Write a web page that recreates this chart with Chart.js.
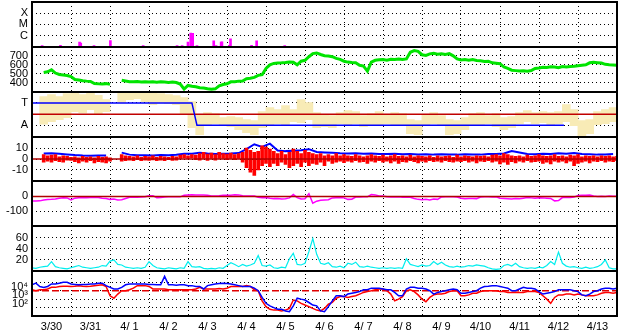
<!DOCTYPE html>
<html lang="en">
<head>
<meta charset="UTF-8">
<title>Space weather summary 3/30 - 4/13</title>
<style>
    body { margin: 0; background: #fff; }
    #wrap { width: 628px; height: 334px; }
</style>
<script src="https://cdn.jsdelivr.net/npm/chart.js"></script>
</head>
<body>
<div id="wrap"><canvas id="chart" width="628" height="334"></canvas></div>
<script>
// x axis: days since 3/30 00:00
const dayLabels = ['3/30', '3/31', '4/ 1', '4/ 2', '4/ 3', '4/ 4', '4/ 5', '4/ 6', '4/ 7', '4/ 8', '4/ 9', '4/10', '4/11', '4/12', '4/13'];

// x-ray flares (peak flux, W/m2)
const flareDays = [0.26, 0.73, 1.22, 1.25, 1.59, 2.01, 2.85, 3.72, 3.85, 4.0, 4.07, 4.12, 4.23, 4.66, 4.72, 4.85, 4.87, 5.06, 5.09, 5.63, 5.76, 6.48];
const flareFlux = [1.3e-7, 1.4e-7, 2.6e-7, 2.2e-7, 1.3e-7, 3.6e-7, 1.3e-7, 1.3e-7, 1.3e-7, 2.6e-7, 1.7e-6, 1.6e-6, 1.3e-7, 3.4e-7, 1.3e-7, 2.6e-7, 2.8e-7, 1.4e-7, 5.1e-7, 1.4e-7, 3.4e-7, 1.3e-7];

// solar wind speed km/s, every 0.1 day from day 0.3
const speed = [514, 522, 545, 508, 492, 486, 480,
    468, 436, 430, 422, 418, 415, 392, 388, 385, 390,
    382, null, null, 428, 420, 412, 410, 413, 409, 411,
    408, 412, 406, 410, 407, 404, 409, 402, 385, 330,
    370, 360, 355, 345, 342, 334, 328, 332, 365, 380,
    388, 410, 412, 418, 420, 445, 450, 460, 482, 490,
    560, 600, 615, 620, 622, 625, 632, 628, 600, 640,
    650, 690, 725, 732, 715, 702, 698, 690, 672, 660,
    640, 630, 625, 622, 595, 585, 530, 630, 650, 655,
    658, 650, 662, 660, 664, 658, 665, 740, 758, 750,
    712, 705, 722, 728, 718, 722, 714, 725, 700, 665,
    655, 660, 650, 658, 648, 645, 638, 640, 622, 618,
    612, 575, 560, 540, 535, 530, 534, 528, 536, 560,
    565, 572, 570, 578, 575, 568, 580, 576, 582, 585,
    590, 595, 600, 622, 628, 624, 620, 605, 600, 598,
    595];

// IMF longitude spread (deg), every 0.2 day from day 0.3
const phiRange = [[100, 320], [120, 336], [136, 320], [152, 345], [200, 353], [190, 336], [216, 353], [176, 330], [200, 296], null,
    [272, 353], [296, 353], [304, 355], [280, 353], [256, 353], [272, 345], [264, 336], [256, 328], [176, 312], [72, 280],
    [15, 176], [96, 192], [104, 184], [88, 152], [80, 160], [55, 152], [31, 136], [15, 128], [72, 200], [96, 232],
    [104, 216], [96, 248], [120, 216], [112, 296], [136, 272], [72, 192], [80, 176], [72, 168], [104, 192], [96, 208],
    [104, 200], [80, 168], [88, 184], [96, 200], [104, 176], [88, 192], [96, 184], [24, 136], [15, 128], [96, 176],
    [104, 192], [88, 168], [15, 136], [24, 128], [55, 152], [96, 184], [88, 192], [104, 168], [80, 184], [55, 152],
    [72, 160], [104, 192], [120, 208], [104, 192], [112, 200], [96, 192], [104, 200], [120, 256], [88, 216], [7, 128],
    [24, 136], [96, 200], [104, 216], [120, 232]];

// sector (T = 270, A = 90)
const sectorDays = [0, 4.10, 4.23, 13.64];
const sectorPhi = [270, 270, 90, 90];

// IMF Bt (nT), every 0.2 day from day 0.3
const bt = [5.0, 5.2, 4.8, 4.2, 3.6, 3.2, 3.0, 3.3, 3.1, null,
    5.8, 4.0, 3.4, 3.5, 3.2, 3.6, 3.4, 3.8, 4.7, 4.9,
    5.6, 5.0, 4.6, 4.8, 5.0, 5.4, 9.0, 13.5, 11.0, 14.0,
    7.8, 7.2, 7.6, 8.0, 9.0, 6.4, 6.0, 5.6, 5.2, 5.0,
    5.2, 4.8, 5.0, 4.6, 4.5, 4.8, 4.4, 4.6, 4.2, 4.4,
    4.0, 4.3, 4.1, 4.0, 4.4, 4.2, 4.0, 4.5, 4.6, 5.0,
    7.2, 6.0, 4.6, 4.4, 4.8, 4.5, 5.2, 4.8, 5.5, 4.6,
    4.4, 4.0, 4.2, 4.5];

// IMF Bz range (nT), every 0.1 day from day 0.3
const bz = [[-3, 4], [-2, 3], [-3, 3.5], [-1.5, 4], [-2.5, 2], [-3, 3], [-1, 2.5],
    [-1.2, 1.5], [-2.5, 2], [-3.5, 1], [-2, 2.5], [-3, 1.5], [-1.5, 2], [-3.5, 1], [-2.5, 2.5], [-3, 1.5], [-3.5, 2],
    [-2, 1], null, null, [-2, 4], [-1.5, 3], [-1, 2.5], [-1.5, 2], [-0.5, 3], [-1.5, 1.5], [-1, 2.5],
    [-1.2, 2], [-0.8, 3], [-1.5, 1.5], [-1, 2.5], [-1.5, 2], [-0.5, 1.5], [-1.2, 2.5], [-1, 2], [0.5, 3.5], [1, 4],
    [0.5, 3], [1, 4], [-0.5, 3.5], [-1, 5], [0, 6], [-1.2, 4.5], [0, 5.5], [-1, 4], [0.5, 6], [0, 5],
    [-0.5, 4.5], [0, 5.5], [-0.5, 4], [0, 5], [-3, 6], [-8, 10], [-12, 8], [-15, 6], [-10, 7], [-6, 12],
    [-4, 11], [-7, 9], [-4, 7], [-6, 5], [-3, 7], [-5, 4], [-8, 6], [-6, 9], [-4, 7], [-7, 5],
    [-3, 8], [-6, 6], [-4, 5], [-5, 4], [-3, 5], [-6, 3], [-2, 4], [-4, 3], [-3, 5], [-2, 3],
    [-3.3, 4], [-2, 3], [-3, 2.5], [-1.5, 4], [-3, 3], [-2.5, 2], [-4, 3], [-2, 4], [-3, 3], [-1.5, 2.5],
    [-3, 3.5], [-2, 2], [-3.5, 3], [-2, 4], [-4, 2.5], [-2.5, 3], [-3, 2], [-1.5, 3.5], [-2.5, 2], [-3.5, 3],
    [-2, 2.5], [-3, 2], [-1.5, 3], [-2.5, 1.5], [-2, 3], [-3, 2], [-1.5, 2.5], [-2.5, 3], [-3, 1.5], [-2, 3.5],
    [-2.5, 2], [-1.5, 3], [-3, 2.5], [-2, 2], [-3.5, 3], [-2, 2.5], [-2.5, 3], [-1.5, 2], [-3, 3.5], [-2, 4],
    [-4.5, 3], [-3, 5], [-5, 4], [-2.5, 3], [-3.5, 2.5], [-2, 3], [-3, 2], [-1.5, 3.5], [-3, 2.5], [-2.5, 3],
    [-2, 4], [-4, 3], [-3, 2.5], [-4.5, 3], [-2, 4], [-3, 2.5], [-2, 3], [-3.5, 2], [-2, 3.5], [-6, 3],
    [-4, 4], [-3, 2], [-2, 3], [-3.5, 2.5], [-2, 3], [-2.5, 2], [-1.5, 3], [-3, 2.5], [-2, 3], [-2.5, 2],
    [-1.5, 2.5]];

// Dst (nT), every 0.1 day from day 0
const dst = [-31, -31, -30, -24, -21, -20, -18, -12, -9, -10,
    -24, -12, -9, -8, -9, -8, -6, -8, -12, -14,
    -20, -18, -24, -22, -14, -6, -5, -5, -4, -3,
    4, 5, -9, -8, -4, -3, -2, -3, -3, 8,
    10, 11, 10, 10, 9, 8, 2, 2, 4, 7,
    7, 8, 11, 10, 4, 3, 2, 3, -6, -9,
    -8, -12, -15, -14, -18, -16, -10, 12, -8, -18,
    -16, 18, -46, -32, -26, -24, -22, -10, -9, -8,
    -10, -20, -19, -4, -4, -3, -3, 12, 10, 2,
    2, -3, -4, -4, -3, -5, -4, -6, -14, -20,
    -22, -20, -24, -18, -20, -4, -3, -2, -3, -4,
    -12, -16, -15, -14, -15, -4, -3, -2, -4, -3,
    -12, -14, -16, -18, -15, -16, -12, -8, -10, -12,
    -9, -10, -12, -14, -30, -28, -8, -6, -8, -5,
    6, 8, 8, 9, 2, 0, 1, 0, 2, 1,
    1];

// ap index, every 0.1 day from day 0
const ap = [6, 5, 7, 8, 9, 17, 8, 6, 5, 4,
    6, 8, 10, 7, 6, 5, 6, 7, 10, 9,
    18, 20, 12, 11, 7, 6, 5, 6, 5, 7,
    17, 10, 6, 5, 4, 6, 5, 4, 6, 5,
    17, 8, 7, 8, 5, 4, 5, 4, 6, 5,
    10, 15, 12, 8, 12, 9, 11, 14, 28, 10,
    9, 11, 6, 5, 7, 6, 22, 32, 12, 11,
    14, 35, 58, 30, 14, 12, 15, 8, 7, 9,
    6, 14, 12, 16, 8, 7, 9, 7, 6, 5,
    6, 5, 6, 5, 6, 5, 22, 12, 10, 8,
    11, 9, 10, 17, 12, 16, 11, 8, 7, 9,
    7, 8, 10, 9, 11, 10, 9, 6, 4, 3,
    4, 10, 12, 9, 14, 8, 6, 5, 6, 5,
    7, 6, 10, 17, 12, 34, 14, 9, 7, 8,
    6, 5, 7, 5, 6, 8, 12, 20, 6, 4,
    4];

// >2 MeV electron flux (blue) and >0.6 MeV (red), every 0.1 day from day 0
const fluxHigh = [5.0e4, 7.9e4, 3.2e4, 2.5e4, 3.2e4, 6.3e4, 6.3e4, 7.9e4, 1.0e5, 1.0e5,
    6.3e4, 5.6e4, 5.0e4, 5.6e4, 5.6e4, 6.3e4, 6.3e4, 7.9e4, 7.9e4, 4.0e4,
    2.5e4, 1.6e4, 1.6e4, 2.5e4, 5.0e4, 6.3e4, 6.3e4, 6.3e4, 6.3e4, 6.3e4,
    5.6e4, 5.6e4, 5.0e4, 5.0e4, 5.0e5, 5.0e4, 5.0e4, 4.5e4, 5.0e4, 5.0e4,
    4.0e4, 4.0e4, 3.2e4, 3.2e4, 1.6e4, 4.0e4, 5.0e4, 6.3e4, 7.1e4, 7.9e4,
    7.1e4, 6.3e4, 5.0e4, 4.0e4, 3.2e4, 3.2e4, 3.2e4, 2.0e4, 1.0e4, 1.6e3,
    3.2e2, 1.6e2, 1.0e2, 63, 63, 40, 32, 1.6e2, 1.3e3, 1.0e3,
    7.9e2, 4.0e2, 2.0e2, 1.6e2, 40, 32, 1.3e2, 6.3e2, 2.5e3, 2.5e3,
    2.0e3, 4.0e3, 5.0e3, 6.3e3, 7.9e3, 1.3e4, 1.3e4, 2.0e4, 2.0e4, 2.0e4,
    1.6e4, 1.3e4, 1.3e4, 6.3e3, 2.5e3, 2.5e3, 1.6e4, 2.5e4, 2.5e4, 2.0e4,
    2.0e4, 1.6e4, 1.0e4, 4.0e3, 6.3e3, 7.9e3, 1.0e4, 1.3e4, 1.6e4, 1.3e4,
    5.0e3, 5.0e3, 6.3e3, 7.9e3, 1.0e4, 2.0e4, 3.2e4, 3.5e4, 4.0e4, 4.0e4,
    3.2e4, 2.5e4, 2.0e4, 1.0e4, 1.0e4, 1.6e4, 2.5e4, 2.0e4, 2.0e4, 1.6e4,
    7.9e3, 4.0e3, 5.0e3, 6.3e3, 7.9e3, 1.3e4, 1.3e4, 1.3e4, 1.3e4, 1.0e4,
    7.9e3, 3.2e3, 2.5e3, 4.0e3, 7.9e3, 1.0e4, 1.6e4, 2.0e4, 2.0e4, 1.6e4,
    2.0e4];
const fluxLow = [1.3e4, 1.0e4, 1.3e4, 1.3e4, 1.6e4, 2.5e4, 2.5e4, 3.2e4, 3.5e4, 3.5e4,
    3.2e4, 3.5e4, 4.0e4, 3.5e4, 3.2e4, 3.5e4, 4.0e4, 4.5e4, 5.0e4, 3.2e4,
    2.5e3, 1.3e3, 4.0e3, 1.0e4, 1.0e4, 1.3e4, 2.0e4, 4.0e4, 4.0e4, 4.0e4,
    3.2e4, 1.6e4, 1.6e4, 1.6e4, 1.6e4, 1.3e4, 1.3e4, 1.3e4, 1.3e4, 1.3e4,
    1.3e4, 1.3e4, 1.6e4, 2.5e4, 1.6e4, 1.6e4, 1.6e4, 1.6e4, 1.8e4, 1.6e4,
    2.0e4, 3.2e4, 3.2e4, 3.2e4, 3.2e4, 4.0e4, 3.2e4, 1.3e4, 1.0e4, 6.3e2,
    1.3e2, 63, 50, 50, 40, 50, 79, 7.9e2, 6.3e2, 3.2e2,
    2.0e2, 1.3e2, 79, 50, 40, 79, 2.5e2, 4.0e2, 1.3e3, 2.0e3,
    2.0e3, 1.6e3, 2.0e3, 2.5e3, 4.0e3, 6.3e3, 7.9e3, 1.0e4, 1.3e4, 1.6e4,
    1.6e4, 1.0e4, 4.0e3, 6.3e2, 1.0e3, 2.0e3, 1.0e4, 1.3e4, 7.9e3, 3.2e3,
    1.0e3, 5.0e2, 1.6e3, 3.2e3, 4.0e3, 4.0e3, 5.0e3, 7.9e3, 1.0e4, 1.0e4,
    2.5e3, 2.5e3, 3.2e3, 5.0e3, 5.0e3, 7.9e3, 1.0e4, 1.0e4, 1.0e4, 1.0e4,
    7.9e3, 7.9e3, 6.3e3, 6.3e3, 6.3e3, 6.3e3, 6.3e3, 7.9e3, 7.9e3, 7.9e3,
    6.3e3, 2.5e3, 1.0e3, 3.2e2, 1.6e3, 3.2e3, 3.2e3, 4.0e3, 4.0e3, 3.2e3,
    4.0e3, 3.2e3, 2.5e3, 2.5e3, 2.5e3, 3.2e3, 5.0e3, 6.3e3, 6.3e3, 5.0e3,
    6.3e3];

// reference lines
const refDays = [0, 15];
const sectorBoundary = 180;
const fluxAlert = 1e4;

const series = (start, step, values) => values.map((v, i) => ({ x: +(start + i * step).toFixed(2), y: v }));
const pairs = (xs, ys) => xs.map((x, i) => ({ x: x, y: ys[i] }));
const flat = (v) => refDays.map(d => ({ x: d, y: v }));

Chart.defaults.font.family = 'Arial, "Liberation Sans", sans-serif';
Chart.defaults.font.size = 11;
Chart.defaults.color = '#000';

// no label overflow padding, so the panels fill the plot height exactly
const noPadding = s => { s.paddingTop = 0; s.paddingBottom = 0; s.paddingLeft = 0; s.paddingRight = 0; };

function panelAxis(weight, type, min, max, tickValues, tickLabels, labelOffset) {
    return {
        type: type, min: min, max: max, weight: weight,
        stack: 'panels', stackWeight: 1, position: 'left',
        grid: { color: '#000', lineWidth: 1, drawTicks: false },
        border: { display: false, dash: [1, 3] },
        ticks: {
            color: '#000', padding: 4, autoSkip: false, labelOffset: labelOffset || 0,
            callback: v => { const i = tickValues.indexOf(v); return i < 0 ? '' : tickLabels[i]; }
        },
        afterBuildTicks: s => { s.ticks = tickValues.map(v => ({ value: v })); },
        afterFit: s => { s.width = 32; noPadding(s); }
    };
}

const panelIds = ['yFlare', 'ySpeed', 'yPhi', 'yBz', 'yDst', 'yAp', 'yFlux'];

const framePlugin = {
    id: 'frame',
    afterDraw(chart) {
        const { ctx, chartArea: a } = chart;
        ctx.save();
        ctx.strokeStyle = '#000';
        ctx.lineWidth = 2;
        ctx.beginPath();
        panelIds.forEach(id => {
            const y = Math.round(chart.scales[id].top);
            ctx.moveTo(a.left, y);
            ctx.lineTo(a.right, y);
        });
        ctx.rect(Math.round(a.left), Math.round(a.top), Math.round(a.right - a.left), Math.round(a.bottom - a.top));
        ctx.stroke();
        ctx.restore();
    }
};

const line = (data, yAxisID, color, width, extra) => Object.assign({
    type: 'line', data: data, yAxisID: yAxisID, borderColor: color, borderWidth: width,
    pointRadius: 0, tension: 0, spanGaps: false
}, extra || {});

new Chart(document.getElementById('chart'), {
    type: 'line',
    data: {
        datasets: [
            { type: 'bar', data: pairs(flareDays, flareFlux.map(f => [1e-7, f])), yAxisID: 'yFlare', backgroundColor: '#ff00ff', barThickness: 2, grouped: false },
            line(series(0.3, 0.1, speed), 'ySpeed', '#00e400', 3),
            line(pairs(sectorDays, sectorPhi), 'yPhi', '#0000ff', 1.5),
            line(flat(sectorBoundary), 'yPhi', '#c00000', 1.5),
            { type: 'bar', data: series(0.3, 0.2, phiRange).filter(p => p.y), yAxisID: 'yPhi', backgroundColor: '#f8ebb6', barThickness: 8, grouped: false },
            line(flat(0), 'yBz', '#b00000', 1.5),
            { type: 'bar', data: series(0.3, 0.1, bz).filter(p => p.y), yAxisID: 'yBz', backgroundColor: '#ff0000', barThickness: 3, grouped: false },
            line(series(0.3, 0.2, bt), 'yBz', '#0000ff', 2),
            line(flat(0), 'yDst', '#b00000', 1.5),
            line(series(0, 0.1, dst), 'yDst', '#ff00ff', 1.5),
            line(series(0, 0.1, ap), 'yAp', '#00eeee', 1.2),
            line(series(0, 0.1, fluxHigh), 'yFlux', '#0000ff', 1.5),
            line(series(0, 0.1, fluxLow), 'yFlux', '#ff0000', 1.5),
            line(flat(fluxAlert), 'yFlux', '#e00000', 1.5, { borderDash: [7, 3] })
        ]
    },
    options: {
        responsive: false,
        animation: false,
        devicePixelRatio: 1,
        layout: { padding: { top: 2, right: 11, left: 0, bottom: 0 } },
        plugins: { legend: { display: false }, tooltip: { enabled: false } },
        scales: {
            x: {
                type: 'linear', min: 0, max: 15, position: 'bottom', offset: false,
                grid: { color: c => (c.tick && Number.isInteger(c.tick.value)) ? '#000' : 'rgba(0,0,0,0)', drawTicks: false, offset: false },
                border: { display: false, dash: [1, 3] },
                ticks: {
                    color: '#000', padding: 4, maxRotation: 0, autoSkip: false,
                    callback: v => Number.isInteger(v) ? '' : dayLabels[Math.floor(v)]
                },
                afterBuildTicks: s => { s.ticks = []; for (let h = 0; h <= 30; h++) s.ticks.push({ value: h / 2 }); },
                afterFit: s => { s.height = 18; noPadding(s); }
            },
            yFlare: panelAxis(7, 'logarithmic', 1e-7, 1e-3, [1e-6, 1e-5, 1e-4], ['C', 'M', 'X']),
            ySpeed: panelAxis(6, 'linear', 300, 800, [400, 500, 600, 700], ['400', '500', '600', '700']),
            yPhi: panelAxis(5, 'linear', 0, 360, [90, 270], ['A', 'T']),
            yBz: panelAxis(4, 'linear', -20.5, 20.5, [-10, 0, 10], ['-10', '0', '10']),
            yDst: panelAxis(3, 'linear', -200, 100, [-100, 0], ['-100', '0']),
            yAp: panelAxis(2, 'linear', 0, 80, [20, 40, 60], ['20', '40', '60']),
            yFlux: panelAxis(1, 'logarithmic', 10, 2.1e6, [1e2, 1e3, 1e4, 1e5], ['10²', '10³', '10⁴', ''], -4)
        }
    },
    plugins: [framePlugin]
});
</script>
</body>
</html>
